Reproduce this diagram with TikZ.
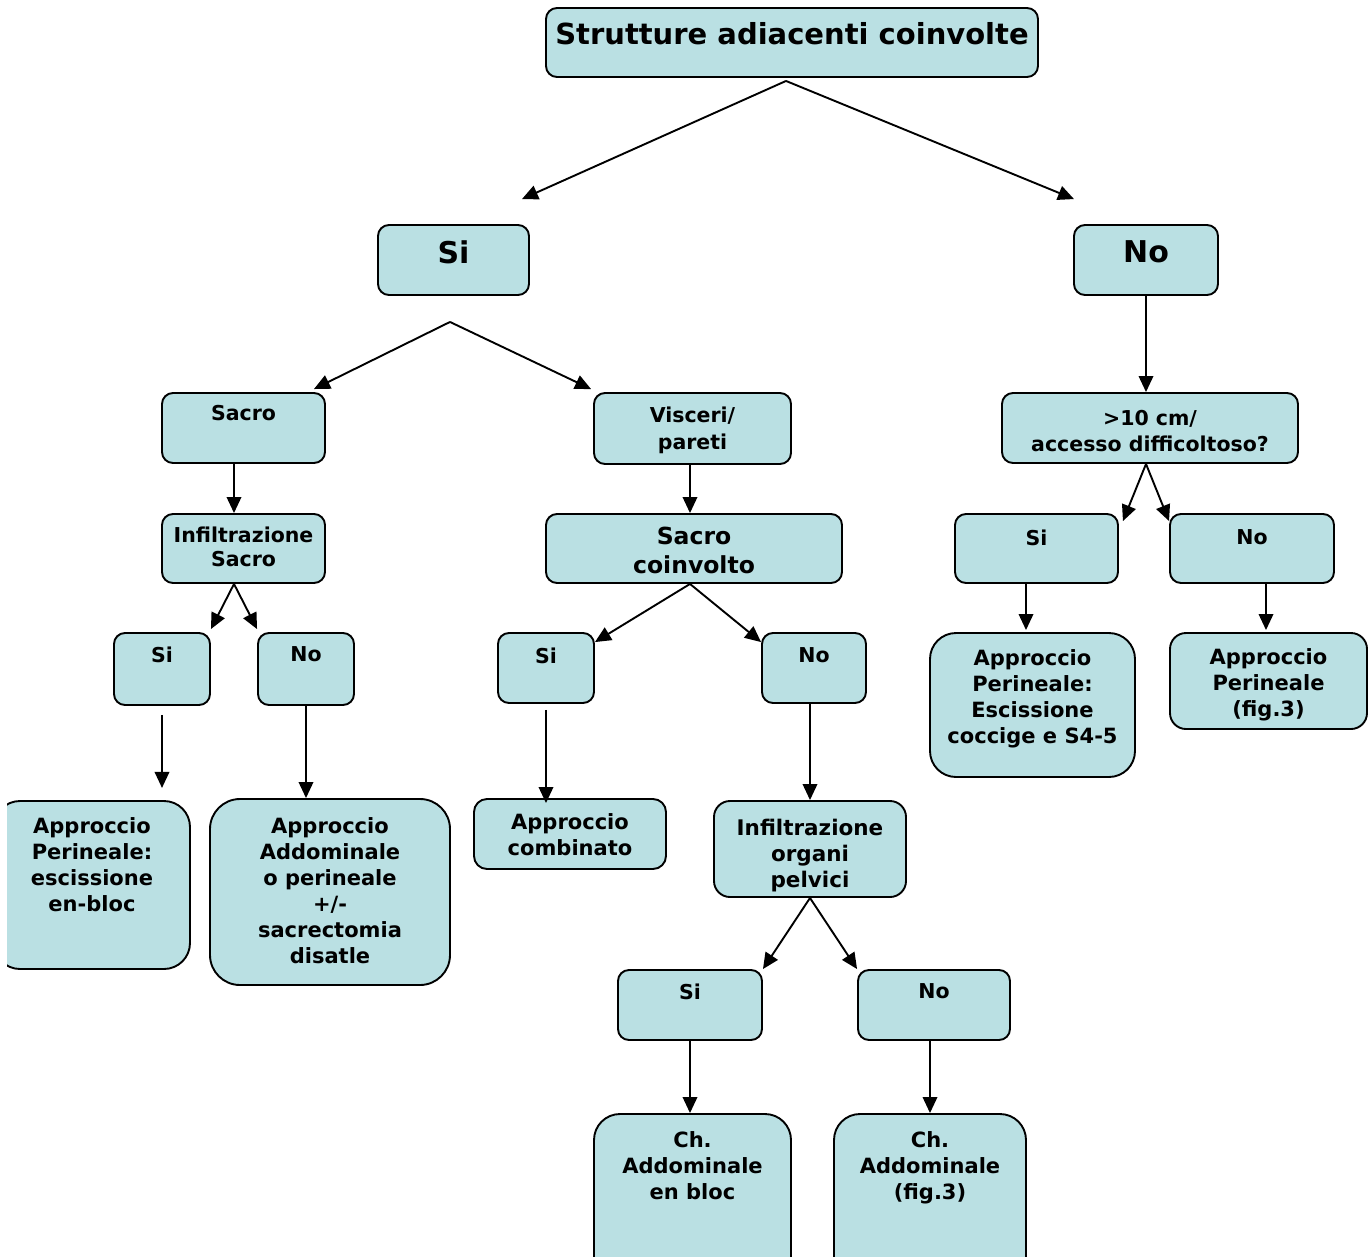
\documentclass[tikz,border=0pt]{standalone}
\usepackage{fontspec}
\setmainfont{DejaVu Sans}
\usetikzlibrary{calc,arrows.meta}
\definecolor{boxfill}{RGB}{186,224,227}
% box text: width, height, top gap, lines
\newcommand{\bx}[4]{\parbox[c][#2pt][t]{#1pt}{\centering\vspace*{#3pt}#4\par}}

\begin{document}
\begin{tikzpicture}[x=1pt,y=-1pt,
  box/.style={draw,fill=boxfill,line width=1.9pt,rounded corners=11pt,inner sep=0pt},
  bigbox/.style={box,rounded corners=26pt},
  small/.style={font=\bfseries\fontsize{20.5}{26}\selectfont},
  mid/.style={font=\bfseries\fontsize{21}{26}\selectfont},
  huge/.style={font=\bfseries\fontsize{30}{36}\selectfont},
  arr/.style={-{Triangle[length=16pt,width=14.5pt]},line width=1.9pt}]
 \useasboundingbox (0,0) rectangle (1368,1256);
 \clip (7,0) rectangle (1368,1256);

 \node[box,font=\bfseries\fontsize{29}{35}\selectfont] (top) at (792,42.5)
  {\bx{492}{69}{14}{Strutture adiacenti coinvolte}};
 \node[box,huge] (si) at (453.5,260) {\bx{151}{70}{16}{Si}};
 \node[box,huge] (no) at (1146,260) {\bx{144}{70}{16}{No}};

 \node[box,small] (sacro) at (243.5,428) {\bx{163}{70}{12}{Sacro}};
 \node[box,small,font=\bfseries\fontsize{20.5}{27}\selectfont] (visceri) at (692.5,428.5)
  {\bx{197}{71}{13.5}{Visceri/\\pareti}};
 \node[box,small] (dim) at (1150,428) {\bx{296}{70}{17}{>10 cm/\\accesso difficoltoso?}};

 \node[box,font=\bfseries\fontsize{20.5}{24}\selectfont] (infsacro) at (243.5,548.5)
  {\bx{163}{69}{13}{Infiltrazione\\Sacro}};
 \node[box,font=\bfseries\fontsize{23.5}{29}\selectfont] (coinv) at (694,548.5)
  {\bx{296}{69}{13.5}{Sacro\\coinvolto}};
 \node[box,small] (rsi) at (1036.5,548.5) {\bx{163}{69}{16}{Si}};
 \node[box,small] (rno) at (1252,548.5) {\bx{164}{69}{16}{No}};

 \node[box,small] (lsi) at (162,669) {\bx{96}{72}{14}{Si}};
 \node[box,small] (lno) at (306,669) {\bx{96}{72}{14}{No}};
 \node[box,small] (msi) at (546,668) {\bx{96}{70}{15}{Si}};
 \node[box,small] (mno) at (814,668) {\bx{104}{70}{15}{No}};
 \node[bigbox,mid] (rsiapp) at (1032.5,705)
  {\bx{205}{144}{17}{Approccio\\Perineale:\\Escissione\\coccige e S4-5}};
 \node[box,mid,rounded corners=16pt] (rnoapp) at (1268.5,681)
  {\bx{197}{96}{16}{Approccio\\Perineale\\(fig.3)}};

 \node[bigbox,mid] (lapp1) at (92,885)
  {\bx{196}{168}{17}{Approccio\\Perineale:\\escissione\\en-bloc}};
 \node[bigbox,mid,rounded corners=30pt] (lapp2) at (330,892)
  {\bx{240}{186}{19}{Approccio\\Addominale\\o perineale\\+/-\\sacrectomia\\disatle}};
 \node[box,mid,rounded corners=13pt] (comb) at (570,834)
  {\bx{192}{70}{15}{Approccio\\combinato}};
 \node[box,mid,font=\bfseries\fontsize{21.5}{26}\selectfont,rounded corners=16pt] (infpelv) at (810,849)
  {\bx{192}{96}{18}{Infiltrazione\\organi\\pelvici}};

 \node[box,small] (bsi) at (690,1005) {\bx{144}{70}{14}{Si}};
 \node[box,small] (bno) at (934,1005) {\bx{152}{70}{14}{No}};
 \node[bigbox,mid] (cha1) at (692.5,1202) {\bx{197}{176}{18}{Ch.\\Addominale\\en bloc}};
 \node[bigbox,mid] (cha2) at (930,1202) {\bx{192}{176}{18}{Ch.\\Addominale\\(fig.3)}};

 % first level
 \path[arr] ($(top.south)+(-6,3)$) edge ($(si.north)+(68.5,-25)$)
            ($(top.south)+(-6,3)$) edge ($(no.north)+(-72,-25)$);
 % Si branch
 \path[arr] ($(si.south)+(-3.5,26)$) edge ($(sacro.north east)+(-12,-3)$)
            ($(si.south)+(-3.5,26)$) edge ($(visceri.north west)+(-2,-3)$);
 \draw[arr] ($(sacro.south)+(-9.5,0)$) -- ($(infsacro.north)+(-9.5,0)$);
 \draw[arr] ($(visceri.south)+(-2.5,0)$) -- ($(visceri.south |- coinv.north)+(-2.5,0)$);
 \path[arr] ($(infsacro.south)+(-9.5,0)$) edge ($(lsi.north east)+(0,-3)$)
            ($(infsacro.south)+(-9.5,0)$) edge ($(lno.north west)+(0,-3)$);
 \path[arr] ($(coinv.south)+(-4,0)$) edge ($(msi.north east)+(0,10)$)
            ($(coinv.south)+(-4,0)$) edge ($(mno.north west)+(0,10)$);
 \draw[arr] ($(lsi.south)+(0,9)$) -- ($(lsi.south)+(0,82)$);
 \draw[arr] (lno.south) -- (lno.south |- lapp2.north);
 \draw[arr] ($(msi.south)+(0,6)$) -- ($(msi.south |- comb.north)+(0,5)$);
 \draw[arr] (infpelv.north |- mno.south) -- (infpelv.north);
 \path[arr] (infpelv.south) edge (bsi.north east)
            (infpelv.south) edge (bno.north west);
 \draw[arr] (bsi.south) -- (bsi.south |- cha1.north);
 \draw[arr] (cha2.north |- bno.south) -- (cha2.north);
 % No branch
 \draw[arr] (no.south) -- (no.south |- dim.north);
 \path[arr] ($(dim.south)+(-4,0)$) edge ($(rsi.north east)+(4,8)$)
            ($(dim.south)+(-4,0)$) edge ($(rno.north west)+(0,8)$);
 \draw[arr] ($(rsi.south)+(-10.5,0)$) -- ($(rsiapp.north)+(-6.5,-2)$);
 \draw[arr] ($(rno.south)+(14,0)$) -- ($(rnoapp.north)+(-2.5,-2)$);
\end{tikzpicture}
\end{document}
